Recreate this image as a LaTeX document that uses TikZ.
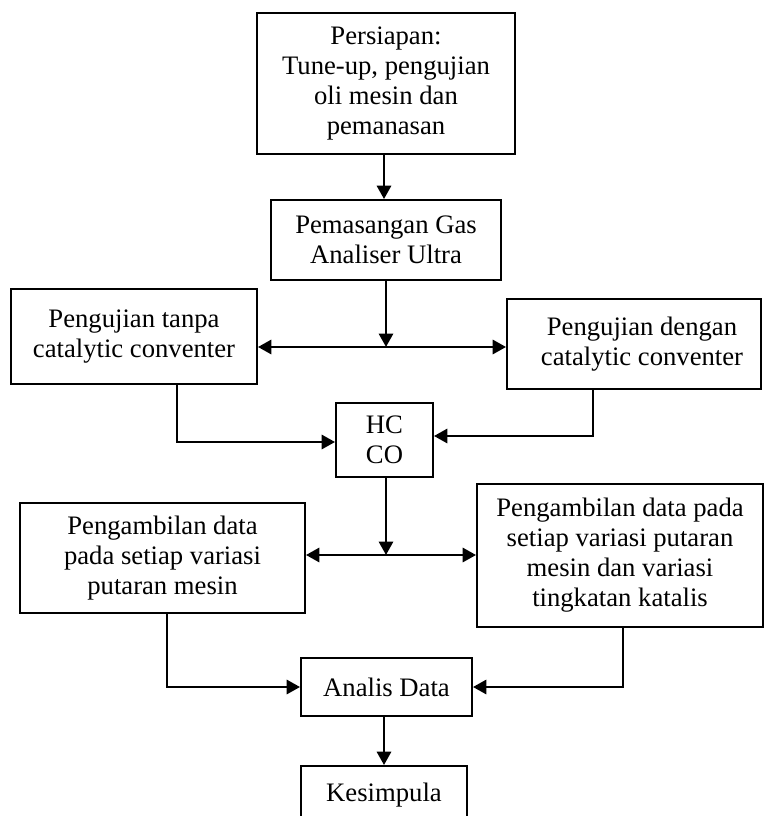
\documentclass[tikz,border=0pt]{standalone}
\usepackage{fontspec}
\setmainfont{Liberation Serif}
\usetikzlibrary{arrows.meta,calc}

\begin{document}
\begin{tikzpicture}[>={Triangle[length=10pt,width=10.5pt]},x=0.75pt,y=-0.75pt,
	font=\fontsize{20}{22.5}\selectfont,
	kotak/.style={draw,line width=1.4pt,align=center,inner sep=0pt},
	panah/.style={->,line width=2.1pt}]
	\clip (0,0) rectangle (764,816);
	% kotak-kotak
	\node[kotak,minimum width=193.5pt,minimum height=105.75pt] (persiapan) at (386,83.5) {Persiapan:\\Tune-up, pengujian\\oli mesin dan\\pemanasan};
	\node[kotak,minimum width=172.5pt,minimum height=60pt] (gas) at (386,240) {Pemasangan Gas\\Analiser Ultra};
	\node[kotak,minimum width=184.5pt,minimum height=71.25pt] (tanpa) at (134,336.5) {Pengujian tanpa\\catalytic conventer};
	\node[kotak,minimum width=190.5pt,minimum height=67.5pt] (dengan) at (634,344) {\hspace*{12pt}Pengujian dengan\\\hspace*{12pt}catalytic conventer};
	\node[kotak,minimum width=72.75pt,minimum height=55.5pt] (hcco) at (384.5,440) {HC\\CO};
	\node[kotak,minimum width=213.75pt,minimum height=82.5pt] (datamesin) at (162.5,558) {Pengambilan data\\pada setiap variasi\\putaran mesin};
	\node[kotak,minimum width=214.5pt,minimum height=107.25pt] (datakatalis) at (620,555.5) {Pengambilan data pada\\setiap variasi putaran\\mesin dan variasi\\tingkatan katalis};
	\node[kotak,minimum width=128.25pt,minimum height=43.5pt] (analis) at (386.5,687) {Analis Data};
	\node[kotak,minimum width=124.5pt,minimum height=43.5pt] (kesimpulan) at (384,795) {Kesimpula};
	\coordinate (cabang1) at (386,347);
	\coordinate (cabang2) at (386,555);
	% panah
	\draw[panah] (persiapan.south -| 384,0) -- (gas.north -| 384,0);
	\draw[panah] (gas.south) -- (cabang1);
	\draw[panah,<->] (tanpa.east |- cabang1) -- (dengan.west |- cabang1);
	\draw[panah] ($(tanpa.south)+(43,0)$) |- ($(hcco.west)+(0,2)$);
	\draw[panah] ($(dengan.south)+(-41,0)$) |- ($(hcco.east)+(0,-4)$);
	\draw[panah] (hcco.south -| cabang2) -- (cabang2);
	\draw[panah,<->] (datamesin.east |- cabang2) -- (datakatalis.west |- cabang2);
	\draw[panah] ($(datamesin.south)+(4.5,0)$) |- (analis.west);
	\draw[panah] ($(datakatalis.south)+(3,0)$) |- (analis.east);
	\draw[panah] (analis.south -| kesimpulan) -- (kesimpulan.north);
\end{tikzpicture}
\end{document}
